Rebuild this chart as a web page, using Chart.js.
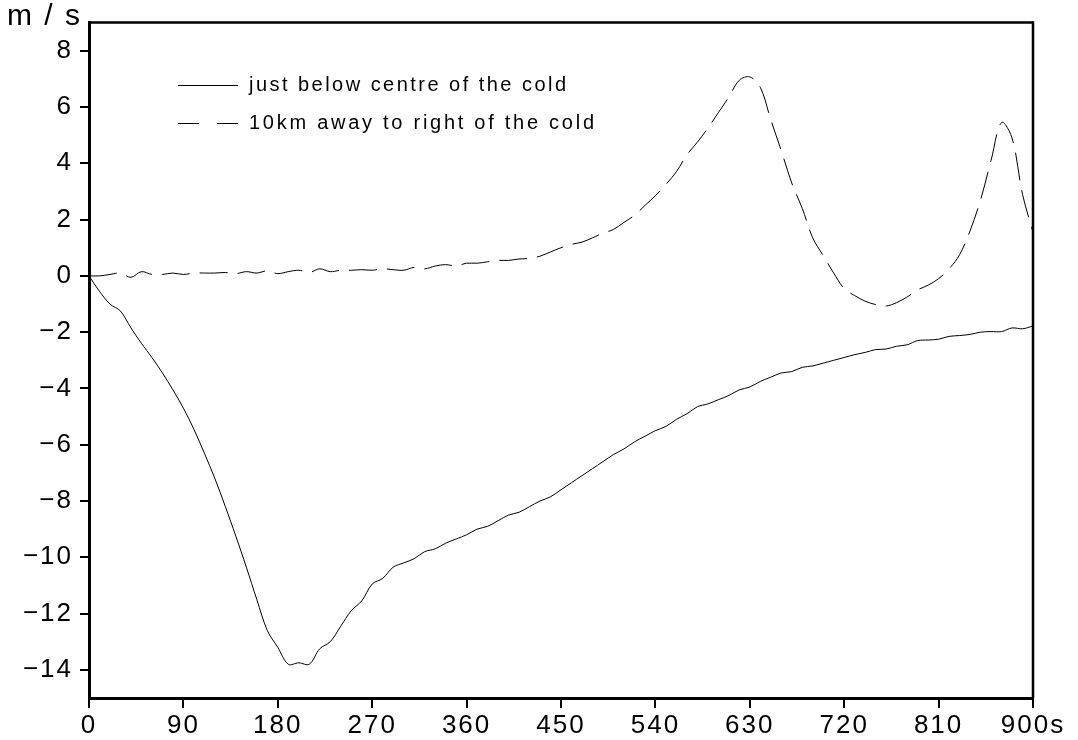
<!DOCTYPE html>
<html>
<head>
<meta charset="utf-8">
<script src="https://cdn.jsdelivr.net/npm/chart.js@4.4.0/dist/chart.umd.min.js"></script>
<style>
  html, body { margin: 0; padding: 0; background: #fff; }
  #wrap { width: 1078px; height: 740px; }
</style>
</head>
<body>
<div id="wrap"><canvas id="c" width="1078" height="740"></canvas></div>
<script>
// ---- data (seconds, m/s) ----
const times = [];
for (let t = 0; t <= 900; t += 10) times.push(t);

const belowCentre = [
  0, -0.55, -1.0, -1.25, -1.85, -2.4, -2.9, -3.45, -4.05, -4.7,
  -5.45, -6.3, -7.2, -8.2, -9.25, -10.35, -11.5, -12.6, -13.2, -13.8,
  -13.75, -13.8, -13.25, -13.0, -12.45, -11.9, -11.55, -10.95, -10.75, -10.35,
  -10.2, -10.05, -9.8, -9.7, -9.5, -9.35, -9.2, -9.0, -8.9, -8.7,
  -8.5, -8.4, -8.2, -8.0, -7.85, -7.6, -7.35, -7.1, -6.85, -6.6,
  -6.35, -6.15, -5.9, -5.7, -5.5, -5.35, -5.1, -4.9, -4.65, -4.55,
  -4.4, -4.25, -4.05, -3.95, -3.75, -3.6, -3.45, -3.4, -3.25, -3.2,
  -3.1, -3.0, -2.9, -2.8, -2.72, -2.62, -2.6, -2.5, -2.45, -2.3,
  -2.28, -2.25, -2.15, -2.12, -2.08, -2.0, -1.98, -1.98, -1.85, -1.88,
  -1.78
];

const awayRight = [
  0, 0, 0.05, 0.1, -0.05, 0.15, 0.05, 0.05, 0.1, 0.05,
  0.1, 0.1, 0.1, 0.12, 0.08, 0.15, 0.1, 0.18, 0.08, 0.15,
  0.2, 0.12, 0.25, 0.15, 0.2, 0.2, 0.22, 0.2, 0.25, 0.22,
  0.2, 0.3, 0.25, 0.35, 0.4, 0.35, 0.45, 0.45, 0.5, 0.55,
  0.55, 0.6, 0.62, 0.7, 0.85, 1.0, 1.12, 1.2, 1.35, 1.52,
  1.65, 1.9, 2.15, 2.5, 2.85, 3.25, 3.7, 4.3, 4.75, 5.25,
  5.8, 6.35, 6.95, 7.07, 6.7, 5.55, 4.45, 3.3, 2.4, 1.35,
  0.72, 0.1, -0.45, -0.7, -0.9, -1.02, -1.07, -0.95, -0.75, -0.5,
  -0.33, -0.1, 0.25, 0.75, 1.6, 2.7, 4.1, 5.45, 4.9, 2.9,
  1.55
];

const seriesLabels = ['just below centre of the cold', '10km away to right of the cold'];
const xTicks = [0, 90, 180, 270, 360, 450, 540, 630, 720, 810, 900];
const yTicks = [-14, -12, -10, -8, -6, -4, -2, 0, 2, 4, 6, 8];
const yUnit = 'm/s';
const xUnit = 's';

// ---- helpers ----
function pts(vals) { return vals.map((v, i) => ({ x: times[i], y: v })); }
const FONT = '"Liberation Sans", Arial, sans-serif';

function fitText(ctx, text, x, y, width, font) {
  ctx.save();
  ctx.font = font;
  ctx.letterSpacing = '0px';
  const natural = ctx.measureText(text).width;
  const n = text.length;
  const sp = n > 1 ? (width - natural) / (n - 1) : 0;
  ctx.letterSpacing = sp + 'px';
  ctx.textAlign = 'left';
  ctx.fillStyle = '#000';
  ctx.fillText(text, x, y);
  ctx.restore();
}

const framePlugin = {
  id: 'frame',
  beforeDraw(chart) {
    chart.ctx.letterSpacing = '2px';
  },
  afterDraw(chart) {
    const { ctx, chartArea: a } = chart;
    ctx.save();
    ctx.letterSpacing = '0px';
    ctx.strokeStyle = '#000';
    ctx.lineWidth = 2.5;
    ctx.beginPath();
    ctx.moveTo(a.left, a.top);
    ctx.lineTo(a.right, a.top);
    ctx.lineTo(a.right, a.bottom);
    ctx.stroke();
    // unit label
    ctx.textBaseline = 'alphabetic';
    fitText(ctx, yUnit, 7, 25, 73, '30px ' + FONT);
    // legend
    const ds = chart.data.datasets;
    const rows = [85, 123];
    rows.forEach((yy, i) => {
      ctx.save();
      ctx.strokeStyle = '#000';
      ctx.lineWidth = 1;
      ctx.setLineDash(i === 0 ? [] : [21, 18]);
      ctx.beginPath();
      ctx.moveTo(178, yy + 0.5);
      ctx.lineTo(238, yy + 0.5);
      ctx.stroke();
      ctx.restore();
      ctx.save();
      ctx.textBaseline = 'middle';
      fitText(ctx, ds[i].label, 249, yy, i === 0 ? 317 : 345, '20px ' + FONT);
      ctx.restore();
    });
    ctx.restore();
  }
};

new Chart(document.getElementById('c'), {
  type: 'line',
  data: {
    datasets: [
      {
        label: seriesLabels[0],
        data: pts(belowCentre),
        borderColor: '#000',
        borderWidth: 1,
        pointRadius: 0,
        tension: 0.35,
        fill: false
      },
      {
        label: seriesLabels[1],
        data: pts(awayRight),
        borderColor: '#000',
        borderWidth: 1,
        borderDash: [28, 10],
        pointRadius: 0,
        tension: 0.35,
        fill: false
      }
    ]
  },
  options: {
    responsive: false,
    animation: false,
    devicePixelRatio: 1,
    layout: { padding: { top: 20, right: 45, left: 0, bottom: 0 } },
    plugins: { legend: { display: false }, tooltip: { enabled: false } },
    scales: {
      x: {
        type: 'linear',
        min: 0,
        max: 900,
        afterFit(s) { s.height = 42; },
        afterBuildTicks(s) { s.ticks = xTicks.map(v => ({ value: v })); },
        border: { display: true, color: '#000', width: 3 },
        grid: { display: true, drawOnChartArea: false, drawTicks: true, tickLength: 10, color: '#000', lineWidth: 2 },
        ticks: {
          color: '#000',
          padding: 2,
          maxRotation: 0,
          autoSkip: false,
          font: { family: FONT, size: 26 },
          callback: v => (v === 900 ? v + xUnit : String(v))
        }
      },
      y: {
        min: -15,
        max: 9,
        afterFit(s) { s.width = 89; },
        afterBuildTicks(s) { s.ticks = yTicks.map(v => ({ value: v })); },
        border: { display: true, color: '#000', width: 3 },
        grid: { display: true, drawOnChartArea: false, drawTicks: true, tickLength: 9, color: '#000', lineWidth: 2 },
        ticks: {
          color: '#000',
          padding: 7,
          autoSkip: false,
          font: { family: FONT, size: 26 },
          callback: v => (v < 0 ? '\u2212' + Math.abs(v) : String(v))
        }
      }
    }
  },
  plugins: [framePlugin]
});
</script>
</body>
</html>
